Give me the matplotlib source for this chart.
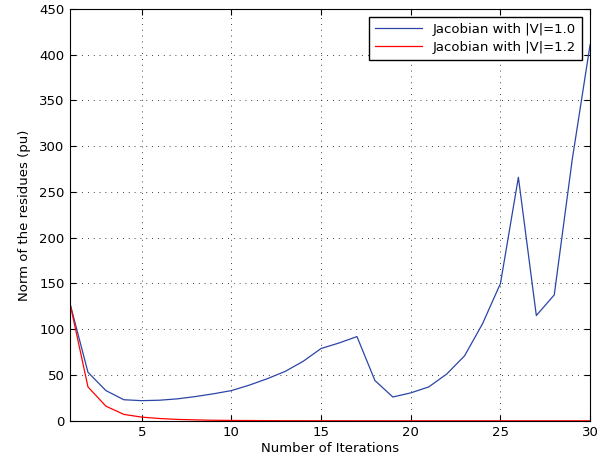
import matplotlib
matplotlib.use('Agg')
import matplotlib.pyplot as plt

# iterations and residual norms
iterations = list(range(1, 31))
res_v10 = [128, 53, 33, 23, 22, 22.5, 24, 26.5, 29.5, 33,
           39, 46, 54, 65, 79, 85, 92, 44, 26, 30.5,
           37, 51, 71, 106, 150, 266, 115, 137.5, 285, 411]
res_v12 = [128, 37, 16, 7, 4, 2.5, 1.5, 1.0, 0.6, 0.4,
           0.3, 0.2, 0.1, 0.1, 0.05, 0.05, 0.02, 0.02, 0.01, 0.01,
           0.01, 0.01, 0.01, 0.01, 0.01, 0.01, 0.01, 0.01, 0.01, 0.01]

plt.rcParams['font.family'] = ['DejaVu Sans']
plt.rcParams['font.size'] = 9.5

fig = plt.figure(figsize=(6.09, 4.66), dpi=100)
ax = fig.add_axes([0.115, 0.097, 0.854, 0.884])

ax.plot(iterations, res_v10, color='#2b45a6', lw=0.9, label='Jacobian with |V|=1.0')
ax.plot(iterations, res_v12, color='#ff0000', lw=0.9, label='Jacobian with |V|=1.2')

ax.set_xlim(1, 30)
ax.set_ylim(0, 450)
ax.set_xticks([5, 10, 15, 20, 25, 30])
ax.set_yticks(range(0, 451, 50))
ax.grid(True, color='black', linestyle=(0, (1, 6)), linewidth=0.6)
ax.tick_params(direction='in', top=True, right=True, length=4, pad=4)
for s in ax.spines.values():
    s.set_linewidth(0.8)

ax.set_xlabel('Number of Iterations', labelpad=2)
ax.set_ylabel('Norm of the residues (pu)', labelpad=6)

leg = ax.legend(loc='upper right', fancybox=False, framealpha=1, edgecolor='black',
                borderaxespad=0.6, handlelength=3.6, fontsize=9.5,
                borderpad=0.45, labelspacing=0.4)
leg.get_frame().set_linewidth(1.0)

fig.savefig('out.png', dpi=100)
